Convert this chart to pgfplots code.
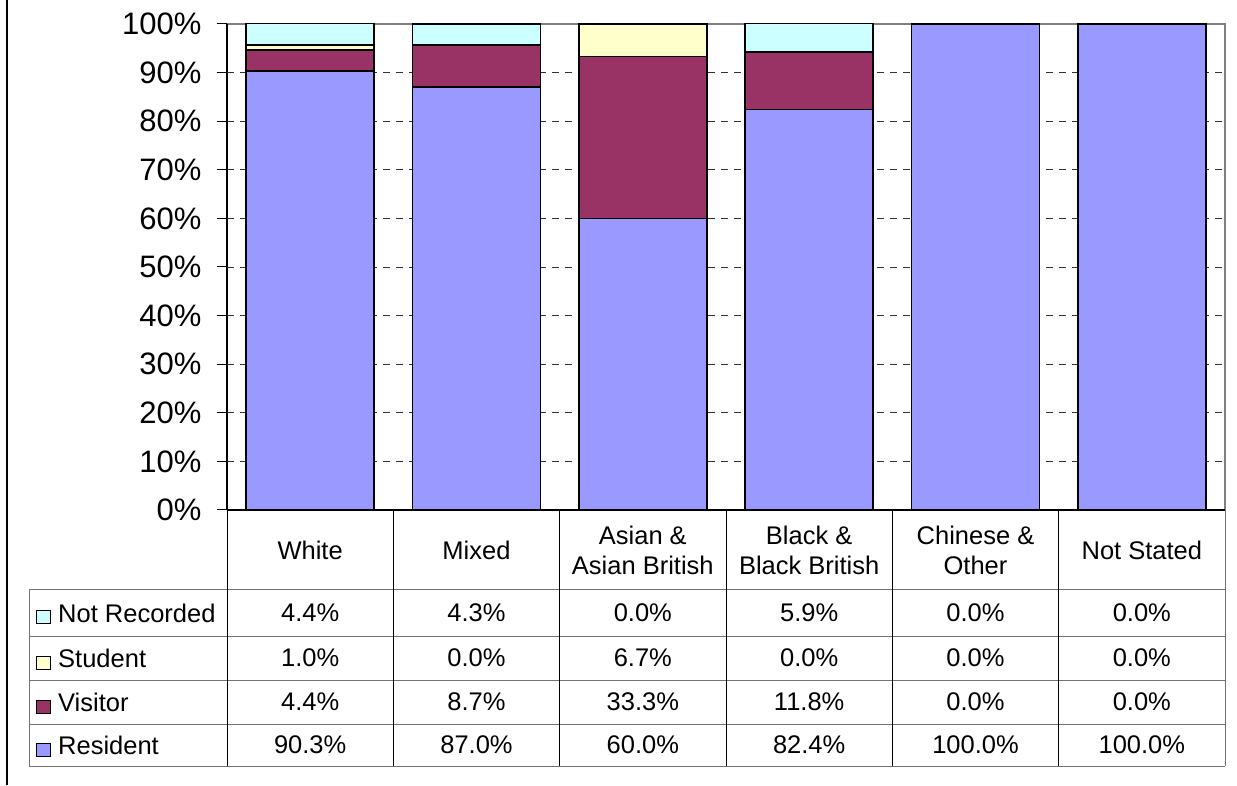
\documentclass[border=0pt]{standalone}
\usepackage{pgfplots}
\usepackage{pgfplotstable}
\pgfplotsset{compat=1.18}
\usepackage{fontspec}
\setmainfont{Liberation Sans}

\definecolor{resident}{HTML}{9999FF}
\definecolor{visitor}{HTML}{993366}
\definecolor{student}{HTML}{FFFFCC}
\definecolor{notrec}{HTML}{CCFFFF}

% shares in percent, one row per ethnic group
\pgfplotstableread{
x resident visitor student notrec
0 90.3 4.4 1.0 4.4
1 87.0 8.7 0.0 4.3
2 60.0 33.3 6.7 0.0
3 82.4 11.8 0.0 5.9
4 100.0 0.0 0.0 0.0
5 100.0 0.0 0.0 0.0
}\data

\newcommand\tabfont{\fontsize{25.5}{30}\selectfont}

\begin{document}
\begin{tikzpicture}[x=1pt,y=1pt]
\path[use as bounding box] (0,0) rectangle (1237,785);
\draw[line width=1.5pt] (7,0) -- (7,785);
% grey frame of the plot area (top and right)
\draw[gray, line width=1.2pt] (227,761) -- (1225,761) -- (1225,275);
\begin{axis}[
  name=ax, at={(227pt,275pt)}, anchor=south west,
  scale only axis, width=998pt, height=486pt,
  ybar stacked, bar width=128pt,
  xmin=-0.5, xmax=5.5, ymin=0, ymax=100,
  xtick=\empty,
  ytick={0,10,...,100},
  extra y ticks={10,20,...,90},
  extra y tick labels={},
  extra y tick style={grid=major},
  grid style={black!80, line width=0.9pt, dash pattern=on 7pt off 6pt},
  /pgf/number format/assume math mode=true,
  yticklabel={\pgfmathprintnumber{\tick}\%},
  yticklabel style={font=\fontsize{31}{36}\selectfont, xshift=-12pt},
  axis x line*=bottom, axis y line*=left,
  axis line style={line width=1.3pt},
  tick align=outside, major tick length=10pt,
  tick style={black, line width=1pt},
  every axis plot/.append style={draw=black, line width=1.7pt},
]
\addplot[fill=resident] table[x=x, y=resident] {\data};
\addplot[fill=visitor] table[x=x, y=visitor] {\data};
\addplot[fill=student] table[x=x, y=student] {\data};
\addplot[fill=notrec] table[x=x, y=notrec] {\data};
\end{axis}

% data table below the chart
\foreach \yy in {195,149,105,61,19}
  \draw[black!55, line width=1pt] (29,\yy) -- (1225,\yy);
\draw[black!55, line width=1pt] (29,19) -- (29,195);
\draw[black!55, line width=1pt] (1225,19) -- (1225,275);
\foreach \k in {0,...,5}
  \draw[black, line width=1pt] (227+166.333*\k,19) -- (227+166.333*\k,275);

\foreach \c [count=\i from 0] in {White,Mixed,{Asian \&\\Asian British},{Black \&\\Black British},{Chinese \&\\Other},Not Stated}
  \node[align=center, font=\tabfont, inner sep=0pt] at (310.17+166.333*\i,235) {\c};

\foreach \col/\yy/\name in {notrec/172/Not Recorded, student/127/Student, visitor/83/Visitor, resident/40/Resident}{
  \draw[black, line width=1pt, fill=\col] (36,\yy-11) rectangle (50,\yy+2);
  \node[anchor=west, font=\tabfont, inner sep=0pt] at (58,\yy) {\name};
  \foreach \i in {0,...,5}{
    \pgfplotstablegetelem{\i}{\col}\of\data
    \let\v\pgfplotsretval
    \node[font=\tabfont, inner sep=0pt] at (310.17+166.333*\i,\yy)
      {\pgfmathprintnumber[fixed, fixed zerofill, precision=1, assume math mode=true]{\v}\%};
  }
}
\end{tikzpicture}
\end{document}
